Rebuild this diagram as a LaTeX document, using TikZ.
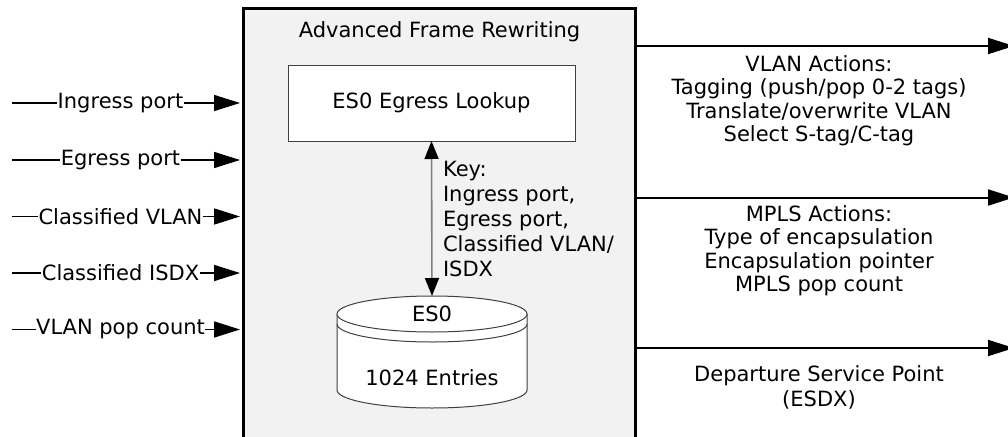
\documentclass[tikz,border=0pt]{standalone}
\usepackage{fontspec}
\setmainfont{DejaVu Sans}
\usetikzlibrary{arrows.meta}
\definecolor{framefill}{HTML}{F2F2F2}
\definecolor{edgegray}{HTML}{404040}
\tikzset{
  frame/.style={draw=black, line width=3pt, fill=framefill, outer sep=0pt, inner sep=0pt},
  lookupbox/.style={draw=edgegray, line width=1pt, fill=white, outer sep=0pt, inner sep=0pt},
  txt/.style={inner sep=0pt, outer sep=0pt},
  lbl/.style={inner sep=0.5pt, outer sep=0pt, fill=white},
  inline/.style={draw=black, line width=1.6pt},
  inarrow/.style={inline, -{Triangle[length=26pt,width=16pt]}},
  outarrow/.style={draw=black, line width=2pt, -{Triangle[length=26pt,width=16pt]}},
  keyarrow/.style={draw=gray, line width=1.6pt, {Triangle[length=18pt,width=14pt,color=black]}-{Triangle[length=18pt,width=14pt,color=black]}},
  cyl/.style={draw=edgegray, line width=1pt, fill=white},
}
\begin{document}
\begin{tikzpicture}[x=1pt,y=-1pt,font=\fontsize{21}{25}\selectfont]
\useasboundingbox (0,0) rectangle (1008,436);
\fill[white] (0,0) rectangle (1008,436);
% main frame
\node[frame, anchor=north west, minimum width=392pt, minimum height=460pt] (frame) at (243.5,8.5) {};
\node[txt] (title) at (439.5,32) {Advanced Frame Rewriting};
% lookup box
\node[lookupbox, minimum width=287pt, minimum height=76pt] (lookup) at (431.5,103) {};
\node[txt] (lookuptxt) at (431.5,103) {ES0 Egress Lookup};
% cylinder
\draw[cyl] (337,314) -- (337,390) arc[start angle=180,end angle=0,x radius=95,y radius=18] -- (527,314);
\draw[cyl] (432,314) ellipse[x radius=95,y radius=18];
\draw[cyl, fill=none] (337,324) arc[start angle=180,end angle=0,x radius=95,y radius=18];
\coordinate (cyltop) at (432,296);
\node[txt] (es0) at (432,314) {ES0};
\node[txt] (entries) at (432,378) {1024 Entries};
% key arrow
\draw[keyarrow] (lookup.south) -- (cyltop);
\node[txt, anchor=north west, align=left, font=\fontsize{21}{25}\selectfont] (key) at (443,161.5) {Key:\\Ingress port,\\Egress port,\\Classified VLAN/\\ISDX};
% inputs
\foreach \n/\y/\t in {1/103/Ingress port,2/160/Egress port,3/216.5/Classified VLAN,4/273/Classified ISDX,5/329.5/VLAN pop count}{
  \coordinate (s\n) at (12,\y);
  \coordinate (e\n) at (240,\y);
  \node[lbl] (l\n) at (120.5,\y) {\t};
  \draw[inline] (s\n) -- (l\n);
  \draw[inarrow] (l\n) -- (e\n);
}
% outputs
\foreach \n/\y in {1/46,2/197.5,3/348}{
  \coordinate (o\n) at (637,\y);
  \coordinate (t\n) at (1014,\y);
  \draw[outarrow] (o\n) -- (t\n);
}
\node[txt, anchor=north, align=center, font=\fontsize{21}{23.5}\selectfont] (vlan) at (819,55.5) {VLAN Actions:\\Tagging (push/pop 0-2 tags)\\Translate/overwrite VLAN\\Select S-tag/C-tag};
\node[txt, anchor=north, align=center, font=\fontsize{21}{23.5}\selectfont] (mpls) at (819,205.5) {MPLS Actions:\\Type of encapsulation\\Encapsulation pointer\\MPLS pop count};
\node[txt, anchor=north, align=center, font=\fontsize{21}{25}\selectfont] (esdx) at (819,365.5) {Departure Service Point\\(ESDX)};
\end{tikzpicture}
\end{document}
